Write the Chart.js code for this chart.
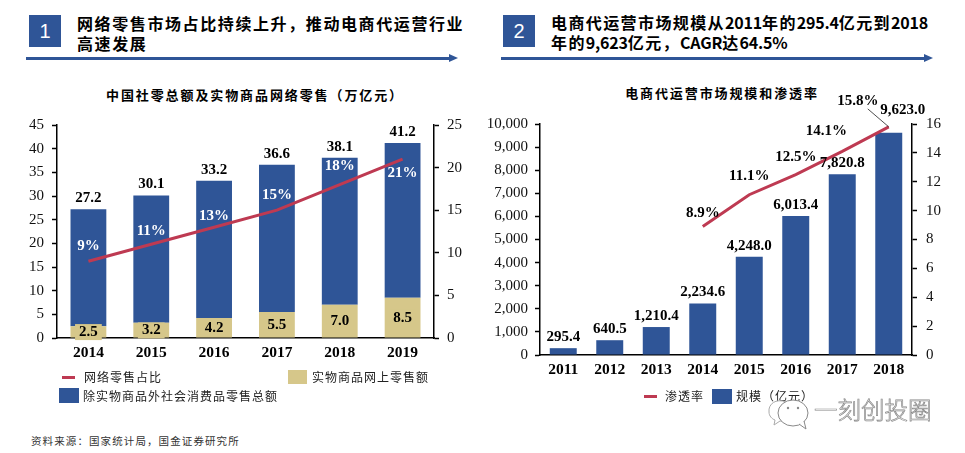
<!DOCTYPE html>
<html lang="zh">
<head>
<meta charset="utf-8">
<title>电商代运营</title>
<script src="https://cdn.jsdelivr.net/npm/chart.js@4/dist/chart.umd.min.js"></script>
<style>
  html, body { margin: 0; padding: 0; background: #fff; }
  body { width: 965px; height: 453px; position: relative; overflow: hidden; font-family: "Noto Sans CJK SC", sans-serif; color: #000; }
  canvas { position: absolute; display: block; }
  .abs { position: absolute; white-space: nowrap; }
  .numbox { position: absolute; top: 15px; width: 32px; height: 32px; background: #2f5597; color: #fff; font: 20px/32px "Liberation Sans", sans-serif; text-align: center; }
  .head { font-size: 16px; font-weight: 700; letter-spacing: 1.4px; line-height: 20px; }
  .head span { letter-spacing: -0.2px; }
  .rule { position: absolute; top: 57px; height: 3px; background: #2f5597; }
  .tip { position: absolute; top: 54px; width: 0; height: 0; border-left: 9px solid #2f5597; border-top: 4.5px solid transparent; border-bottom: 4.5px solid transparent; }
  .ctitle { font-size: 13px; font-weight: 700; letter-spacing: 1.9px; transform: translateX(-50%); }
  .leg { font-size: 12px; letter-spacing: 1px; line-height: 16px; color: #222; }
  .swatch { position: absolute; }
  .wm { font-size: 23.5px; font-weight: 300; color: #fff; -webkit-text-stroke: 0.7px #888; }
</style>
</head>
<body>

<div class="numbox" style="left:29px">1</div>
<div class="abs head" style="left:77px;top:13px;letter-spacing:1.6px">网络零售市场占比持续上升，推动电商代运营行业<br>高速发展</div>
<div class="rule" style="left:26px;width:424px"></div><div class="tip" style="left:449px"></div>

<div class="numbox" style="left:503px">2</div>
<div class="abs head" style="left:551px;top:12px">电商代运营市场规模从<span>2011</span>年的<span>295.4</span>亿元到<span>2018</span><br>年的<span>9,623</span>亿元，<span>CAGR</span>达<span>64.5%</span></div>
<div class="rule" style="left:501px;width:424px"></div><div class="tip" style="left:924px"></div>

<div class="abs ctitle" style="left:255px;top:85px">中国社零总额及实物商品网络零售（万亿元）</div>
<div class="abs ctitle" style="left:722px;top:83px">电商代运营市场规模和渗透率</div>

<canvas id="retailChart" style="left:0;top:100px"></canvas>
<canvas id="marketChart" style="left:480px;top:60px"></canvas>

<div class="swatch" style="left:62px;top:376px;width:13px;height:3px;background:#be3a52"></div>
<div class="abs leg" style="left:84px;top:369px">网络零售占比</div>
<div class="swatch" style="left:288px;top:370px;width:19px;height:14px;background:#d6c78a"></div>
<div class="abs leg" style="left:312px;top:369px">实物商品网上零售额</div>
<div class="swatch" style="left:59px;top:388px;width:20px;height:15px;background:#2f5597"></div>
<div class="abs leg" style="left:83px;top:388px">除实物商品外社会消费品零售总额</div>

<div class="swatch" style="left:644px;top:395px;width:13px;height:3px;background:#be3a52"></div>
<div class="abs leg" style="left:665px;top:388px">渗透率</div>
<div class="swatch" style="left:712px;top:389px;width:20px;height:15px;background:#2f5597"></div>
<div class="abs leg" style="left:736px;top:388px">规模（亿元）</div>

<svg class="abs" style="left:766px;top:396px" width="48" height="34" viewBox="0 0 48 34">
  <path d="M20 6 C10 2 2 8 3 16 C3 20 6 23 9 24 L8 29 L14 25 L19 25" fill="#fff" stroke="#aaa" stroke-width="1"/>
  <ellipse cx="27" cy="17" rx="15" ry="13" fill="#fff" stroke="#888" stroke-width="1"/>
  <path d="M33 28 L40 33 L38 25" fill="#fff" stroke="#888" stroke-width="1"/>
  <circle cx="22" cy="12" r="1.2" fill="#888"/><circle cx="32" cy="12" r="1.2" fill="#888"/>
</svg>
<div class="abs wm" style="left:814px;top:392px">一刻创投圈</div>

<div class="abs" style="left:31px;top:433px;font-size:10.5px;letter-spacing:1.1px;line-height:16px;color:#333">资料来源：国家统计局，国金证券研究所</div>

<script>
const BLUE = "#2f5597", TAN = "#d6c78a", RED = "#be3a52";
const SERIF = "'Liberation Serif', 'Times New Roman', serif";

// left chart
const retailYears = ["2014", "2015", "2016", "2017", "2018", "2019"];
const onlineRetail = [2.5, 3.2, 4.2, 5.5, 7.0, 8.5];
const otherRetail = [24.7, 26.9, 29.0, 31.1, 31.1, 32.7];
const retailTotals = [27.2, 30.1, 33.2, 36.6, 38.1, 41.2];
const onlineShare = [9, 11, 13, 15, 18, 21];

// right chart
const marketYears = ["2011", "2012", "2013", "2014", "2015", "2016", "2017", "2018"];
const marketSize = [295.4, 640.5, 1210.4, 2234.6, 4248.0, 6013.4, 7820.8, 9623.0];
const penetration = [null, null, null, 8.9, 11.1, 12.5, 14.1, 15.8];

function fixSize(prop, px) {
  return (scale) => { scale[prop] = px; };
}

function yAxis(position, max, step, width, padding, fmt) {
  return {
    position: position,
    min: 0,
    max: max,
    afterFit: fixSize("width", width),
    border: { color: "#000", width: 1.5 },
    grid: { drawOnChartArea: false, color: "#000", tickLength: 5, tickWidth: 1.5 },
    ticks: { stepSize: step, padding: padding, color: "#111", font: { family: SERIF, size: 15 }, callback: fmt },
  };
}

function xAxis(height, padding) {
  return {
    stacked: true,
    afterFit: fixSize("height", height),
    border: { color: "#000", width: 1.5 },
    grid: { display: false, tickLength: 0 },
    ticks: { padding: padding, color: "#000", maxRotation: 0, font: { family: SERIF, size: 15.5, weight: "bold" } },
  };
}

function drawText(ctx, text, x, y, color, bg) {
  ctx.font = "bold 15px " + SERIF;
  ctx.textAlign = "center";
  ctx.textBaseline = "middle";
  if (bg) {
    const w = ctx.measureText(text).width + 8;
    ctx.fillStyle = bg;
    ctx.fillRect(x - w / 2, y - 8, w, 16);
  }
  ctx.fillStyle = color;
  ctx.fillText(text, x, y);
}

// value labels for the left chart
const retailLabels = {
  id: "retailLabels",
  afterDatasetsDraw(chart) {
    const { ctx, scales } = chart;
    const shareShift = [-15, -13, -11, -15, -19, 14];
    ctx.save();
    retailYears.forEach((year, i) => {
      const x = scales.x.getPixelForValue(i);
      drawText(ctx, retailTotals[i].toFixed(1), x, scales.y.getPixelForValue(retailTotals[i]) - 11, "#000");
      drawText(ctx, onlineRetail[i].toFixed(1), x, scales.y.getPixelForValue(onlineRetail[i] / 2), "#000", TAN);
      drawText(ctx, onlineShare[i] + "%", x, scales.y2.getPixelForValue(onlineShare[i]) + shareShift[i], "#fff");
    });
    ctx.restore();
  },
};

// value labels for the right chart
const marketLabels = {
  id: "marketLabels",
  afterDatasetsDraw(chart) {
    const { ctx, scales } = chart;
    const rateShift = { 3: [0, -13], 4: [0, -19], 5: [0, -17], 6: [-16, -20], 7: [-31, -26] };
    ctx.save();
    marketYears.forEach((year, i) => {
      const x = scales.x.getPixelForValue(i);
      const top = scales.y.getPixelForValue(marketSize[i]);
      const text = marketSize[i].toLocaleString("en-US", { minimumFractionDigits: 1, maximumFractionDigits: 1 });
      if (i === 7) drawText(ctx, text, x + 14, top - 23, "#000");
      else drawText(ctx, text, x, top - 11, "#000");

      if (penetration[i] === null) return;
      const py = scales.y2.getPixelForValue(penetration[i]);
      const shift = rateShift[i];
      if (i === 7) {
        ctx.strokeStyle = "#222";
        ctx.lineWidth = 0.8;
        ctx.beginPath();
        ctx.moveTo(x - 21, py - 18);
        ctx.lineTo(x, py);
        ctx.stroke();
      }
      drawText(ctx, penetration[i].toFixed(1) + "%", x + shift[0], py + shift[1], "#000");
    });
    ctx.restore();
  },
};

Chart.defaults.animation = false;
Chart.defaults.responsive = false;
Chart.defaults.plugins.legend.display = false;
Chart.defaults.plugins.tooltip.enabled = false;

function makeCanvas(id, w, h) {
  const c = document.getElementById(id);
  c.width = w;
  c.height = h;
  c.style.width = w + "px";
  c.style.height = h + "px";
  return c;
}

new Chart(makeCanvas("retailChart", 480, 270), {
  data: {
    labels: retailYears,
    datasets: [
      { type: "line", label: "网络零售占比", data: onlineShare, yAxisID: "y2", borderColor: RED, borderWidth: 3, pointRadius: 0, order: 1 },
      { type: "bar", label: "实物商品网上零售额", data: onlineRetail, backgroundColor: TAN, barPercentage: 0.57, categoryPercentage: 1, stack: "s", order: 2 },
      { type: "bar", label: "除实物商品外社会消费品零售总额", data: otherRetail, backgroundColor: BLUE, barPercentage: 0.57, categoryPercentage: 1, stack: "s", order: 3 },
    ],
  },
  options: {
    layout: { padding: { top: 25 } },
    scales: {
      x: xAxis(32, 6),
      y: Object.assign(yAxis("left", 45, 5, 57, 8), { stacked: true }),
      y2: yAxis("right", 25, 5, 46, 8),
    },
  },
  plugins: [retailLabels],
});

new Chart(makeCanvas("marketChart", 485, 330), {
  data: {
    labels: marketYears,
    datasets: [
      { type: "line", label: "渗透率", data: penetration, yAxisID: "y2", borderColor: RED, borderWidth: 3, pointRadius: 0, order: 1 },
      { type: "bar", label: "规模（亿元）", data: marketSize, backgroundColor: BLUE, barPercentage: 0.58, categoryPercentage: 1, order: 2 },
    ],
  },
  options: {
    layout: { padding: { top: 64 } },
    scales: {
      x: xAxis(35, 6),
      y: yAxis("left", 10000, 1000, 60, 7, (v) => v.toLocaleString("en-US")),
      y2: yAxis("right", 16, 2, 53, 9),
    },
  },
  plugins: [marketLabels],
});
</script>
</body>
</html>
